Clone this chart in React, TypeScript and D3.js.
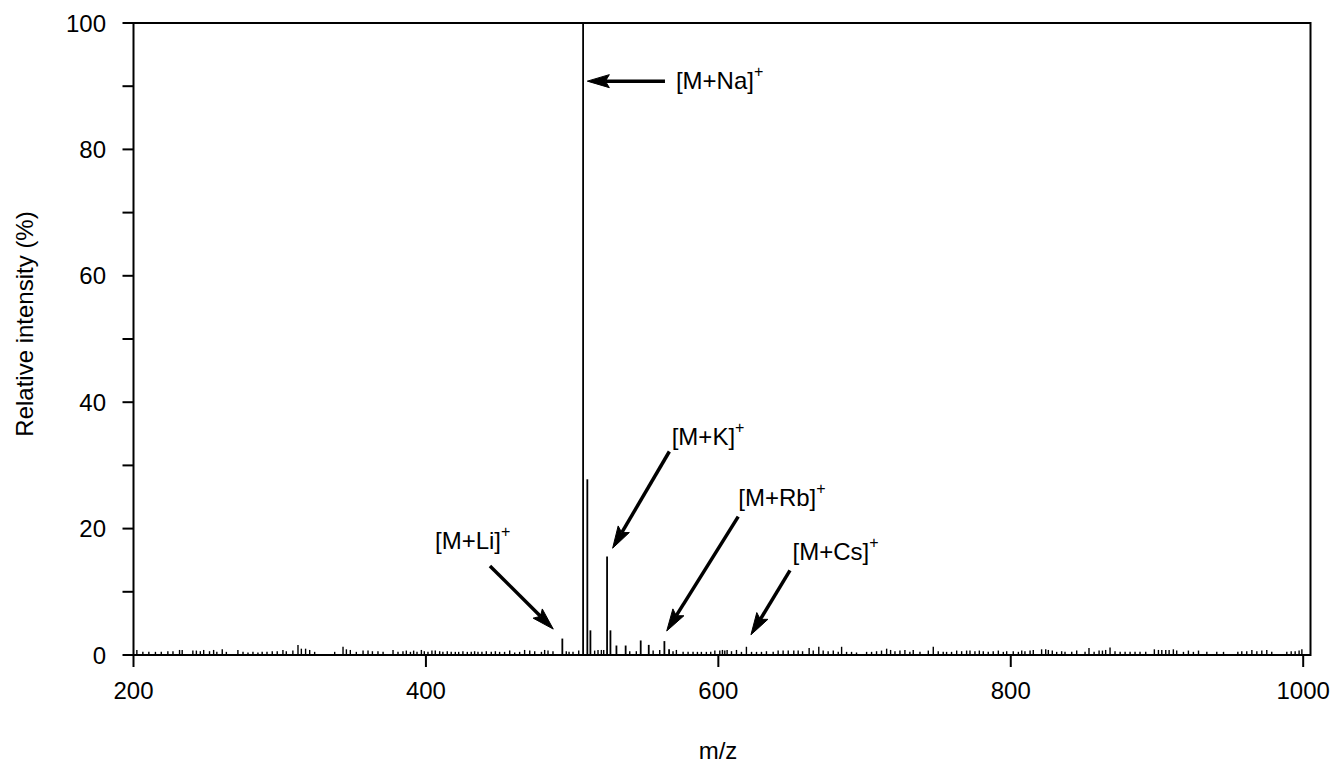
import React from 'react';
import * as d3 from 'd3';

// major peaks (m/z, relative intensity %)
const peakMz = [493.3, 507.5, 510.4, 512.5, 523.9, 526.2, 530.3, 536.6, 546.9, 552.4, 563.1, 566.3];
const peakIntensity = [2.6, 100, 27.8, 3.9, 15.6, 3.9, 1.5, 1.5, 2.3, 1.6, 2.2, 0.9];

// baseline noise peaks
const noiseMz = [
  202.3, 206.4, 210.5, 215, 219, 223.5, 227, 231.5, 233.3, 240.6, 243, 245.7, 248, 252, 254.8, 257, 260.7, 263.5,
  271.4, 274.9, 278.3, 281.7, 285.1, 288, 291.3, 294.9, 298.3, 302.2, 304.5, 309, 312.5, 314.8, 317.7, 320.5, 323.9,
  337.6, 343.3, 345.6, 348.3, 352.4, 357, 360.4, 363.4, 367.2, 370.7, 377.5, 380.9, 384.3, 386.6, 389.4, 391.6, 393.9,
  396.9, 398.9, 401.4, 404.1, 406.4, 409.4, 411.6, 414.6, 417.3, 420.1, 422.4, 425.3, 428.3, 431, 433.3, 435.6, 438.3,
  441.3, 444.7, 447.5, 450.4, 453.8, 457.3, 460.7, 464.1, 467.5, 471, 474.4, 479, 481.2, 483.5, 486.9, 496, 497.9,
  500.6, 504.5, 515.4, 517.7, 520, 521.6, 539.4, 543.9, 555.4, 559.9, 569, 571.3, 575.9, 579.3, 582.7, 585.7, 588.4,
  591.8, 594.8, 597.6, 601, 602.8, 604.4, 606, 609, 612.4, 615.8, 619.2, 622.7, 626.1, 629.5, 632.9, 637.5, 640.9,
  644.3, 647.8, 651.6, 654.6, 657.6, 662.1, 664.9, 668.7, 671.7, 675.1, 678.6, 682, 684.3, 687.7, 691.1, 694.5,
  701.4, 704.8, 708.2, 711.6, 715.1, 717.8, 720.8, 724.2, 727.6, 731, 733.3, 737.9, 743.6, 747, 750.4, 753.8, 756.1,
  759.5, 763, 766.4, 769.8, 772.1, 775.5, 778.5, 781.2, 784.6, 788, 791.5, 794.9, 797.2, 801.7, 805.2, 807.5, 809.7,
  813.2, 815.4, 821.1, 823.9, 825.7, 828.4, 831.4, 834.8, 837.1, 841.7, 845.1, 850.8, 853.5, 857, 860.4, 862.7,
  864.9, 867.9, 871.3, 874.8, 878.2, 881.6, 885, 888.4, 892.3, 898.2, 901, 903.3, 906, 908.3, 911.2, 913.5, 918.1,
  921.5, 924.9, 928.4, 934.1, 940.9, 945.5, 955.3, 958, 961.4, 964.9, 968.3, 971.7, 975.1, 978.5, 988.8, 991.8,
  994.5, 997.2, 999.1,
];
const noiseIntensity = [
  0.8, 0.5, 0.5, 0.5, 0.5, 0.6, 0.6, 0.8, 0.8, 0.7, 0.7, 0.6, 0.8, 0.6, 0.8, 0.5, 0.9, 0.5,
  0.8, 0.5, 0.4, 0.5, 0.4, 0.5, 0.5, 0.6, 0.6, 0.8, 0.6, 0.7, 1.6, 1.0, 1.0, 0.8, 0.5,
  0.5, 1.3, 0.9, 0.8, 0.5, 0.7, 0.7, 0.6, 0.6, 0.5, 0.8, 0.5, 0.6, 0.7, 0.5, 0.7, 0.5,
  0.8, 0.6, 0.5, 0.7, 0.7, 0.6, 0.5, 0.6, 0.5, 0.5, 0.5, 0.6, 0.5, 0.5, 0.6, 0.5, 0.5,
  0.6, 0.5, 0.6, 0.5, 0.5, 0.7, 0.4, 0.5, 0.8, 0.7, 0.6, 0.5, 0.8, 0.7, 0.6, 0.6, 0.5,
  0.5, 0.7, 0.7, 0.8, 0.8, 0.8, 0.6, 0.6, 0.7, 0.8, 0.6, 0.8, 0.5, 0.5, 0.5, 0.5, 0.5,
  0.5, 0.5, 0.7, 0.7, 0.8, 0.7, 0.8, 0.6, 0.8, 0.5, 1.3, 0.5, 0.5, 0.5, 0.6, 0.5, 0.7,
  0.7, 0.7, 0.7, 0.7, 0.6, 1.1, 0.7, 1.3, 0.7, 0.6, 0.7, 0.5, 1.3, 0.5, 0.5, 0.4,
  0.5, 0.5, 0.6, 0.7, 1.0, 0.8, 0.6, 0.7, 0.8, 0.5, 0.8, 0.5, 0.7, 1.3, 0.6, 0.5, 0.5,
  0.5, 0.7, 0.6, 0.7, 0.7, 0.6, 0.7, 0.6, 0.5, 0.6, 0.7, 0.5, 0.6, 0.6, 0.5, 0.7, 0.6,
  0.7, 0.8, 0.9, 0.9, 0.8, 0.7, 0.5, 0.6, 0.5, 0.5, 0.7, 0.5, 1.1, 0.5, 0.7, 0.7,
  0.8, 1.2, 0.6, 0.5, 0.5, 0.5, 0.5, 0.5, 0.5, 0.9, 0.8, 0.8, 0.8, 0.8, 0.9, 0.7, 0.5,
  0.7, 0.5, 0.7, 0.5, 0.5, 0.5, 0.5, 0.6, 0.6, 0.8, 0.6, 0.7, 0.8, 0.5, 0.5, 0.6,
  0.6, 0.7, 0.9,
];

const xTicks = [200, 400, 600, 800, 1000];
const yTicks = [0, 10, 20, 30, 40, 50, 60, 70, 80, 90, 100];
const yLabels = [0, 20, 40, 60, 80, 100];

// annotations: label, arrow tail / tip and label anchor in data units
const adductLabels = ['[M+Na]', '[M+K]', '[M+Rb]', '[M+Cs]', '[M+Li]'];
const arrowTail = [[563.5, 90.8], [566.5, 32.2], [613.6, 21.9], [649.0, 13.4], [443.8, 14.1]];
const arrowTip = [[510.4, 90.8], [527.7, 16.9], [564.7, 3.8], [622.3, 3.2], [487.1, 4.1]];
const labelAt = [[571.0, 89.6], [568.1, 33.2], [613.6, 23.6], [650.8, 15.0], [406.2, 16.7]];

const W = 1335;
const H = 765;
const FONT = 'Liberation Sans, Arial, Helvetica, sans-serif';

function arrowPath(x1: number, y1: number, x2: number, y2: number) {
  const dx = x2 - x1;
  const dy = y2 - y1;
  const len = Math.sqrt(dx * dx + dy * dy);
  const ux = dx / len;
  const uy = dy / len;
  const px = -uy;
  const py = ux;
  const headLen = 22;
  const half = 6.5;
  const bx = x2 - ux * headLen;
  const by = y2 - uy * headLen;
  const nx = x2 - ux * headLen * 0.82;
  const ny = y2 - uy * headLen * 0.82;
  return {
    shaft: [x1, y1, nx, ny],
    head: `M${x2},${y2} L${bx + px * half},${by + py * half} L${nx},${ny} L${bx - px * half},${by - py * half} Z`,
  };
}

export default function App() {
  const x = d3.scaleLinear().domain([200, 1005]).range([133.5, 1310.5]);
  const y = d3.scaleLinear().domain([0, 100]).range([655, 23]);
  const [x0, x1] = x.range();
  const [y0, y1] = y.range();

  return (
    <svg width={W} height={H} style={{ position: 'absolute', left: 0, top: 0, background: '#fff' }} fontFamily={FONT}>
      {/* noise */}
      {noiseMz.map((m, i) => (
        <line key={'n' + i} x1={x(m)} x2={x(m)} y1={y(0)} y2={y(noiseIntensity[i])} stroke="#000" strokeWidth={1.4} />
      ))}
      {/* peaks */}
      {peakMz.map((m, i) => (
        <line key={'p' + i} x1={x(m)} x2={x(m)} y1={y(0)} y2={y(peakIntensity[i])} stroke="#000" strokeWidth={1.8} />
      ))}

      {/* frame */}
      <path d={`M${x0},${y1} H${x1} V${y0} H${x0} Z`} fill="none" stroke="#000" strokeWidth={2} />

      {/* x axis ticks */}
      {xTicks.map(t => (
        <g key={'xt' + t}>
          <line x1={x(t)} x2={x(t)} y1={y0} y2={y0 + 12} stroke="#000" strokeWidth={2} />
          <text x={x(t)} y={699} textAnchor="middle" fontSize={24} fill="#000">{t}</text>
        </g>
      ))}
      {/* y axis ticks */}
      {yTicks.map(t => (
        <line key={'yt' + t} x1={x0 - 11} x2={x0} y1={y(t)} y2={y(t)} stroke="#000" strokeWidth={2} />
      ))}
      {yLabels.map(t => (
        <text key={'yl' + t} x={106} y={y(t) + 8.5} textAnchor="end" fontSize={24} fill="#000">{t}</text>
      ))}

      {/* axis titles */}
      <text x={(x0 + x1) / 2 - 4} y={759} textAnchor="middle" fontSize={24} fill="#000">m/z</text>
      <text transform="translate(33,324) rotate(-90)" textAnchor="middle" fontSize={24} fill="#000">
        Relative intensity (%)
      </text>

      {/* annotations */}
      {adductLabels.map((lab, i) => {
        const a = arrowPath(x(arrowTail[i][0]), y(arrowTail[i][1]), x(arrowTip[i][0]), y(arrowTip[i][1]));
        return (
          <g key={'a' + i}>
            <line x1={a.shaft[0]} y1={a.shaft[1]} x2={a.shaft[2]} y2={a.shaft[3]} stroke="#000" strokeWidth={3.5} />
            <path d={a.head} fill="#000" stroke="#000" strokeWidth={1} strokeLinejoin="miter" />
            <text x={x(labelAt[i][0])} y={y(labelAt[i][1])} fontSize={24} fill="#000">
              {lab}
              <tspan fontSize={16} dy={-12}>+</tspan>
            </text>
          </g>
        );
      })}
    </svg>
  );
}
